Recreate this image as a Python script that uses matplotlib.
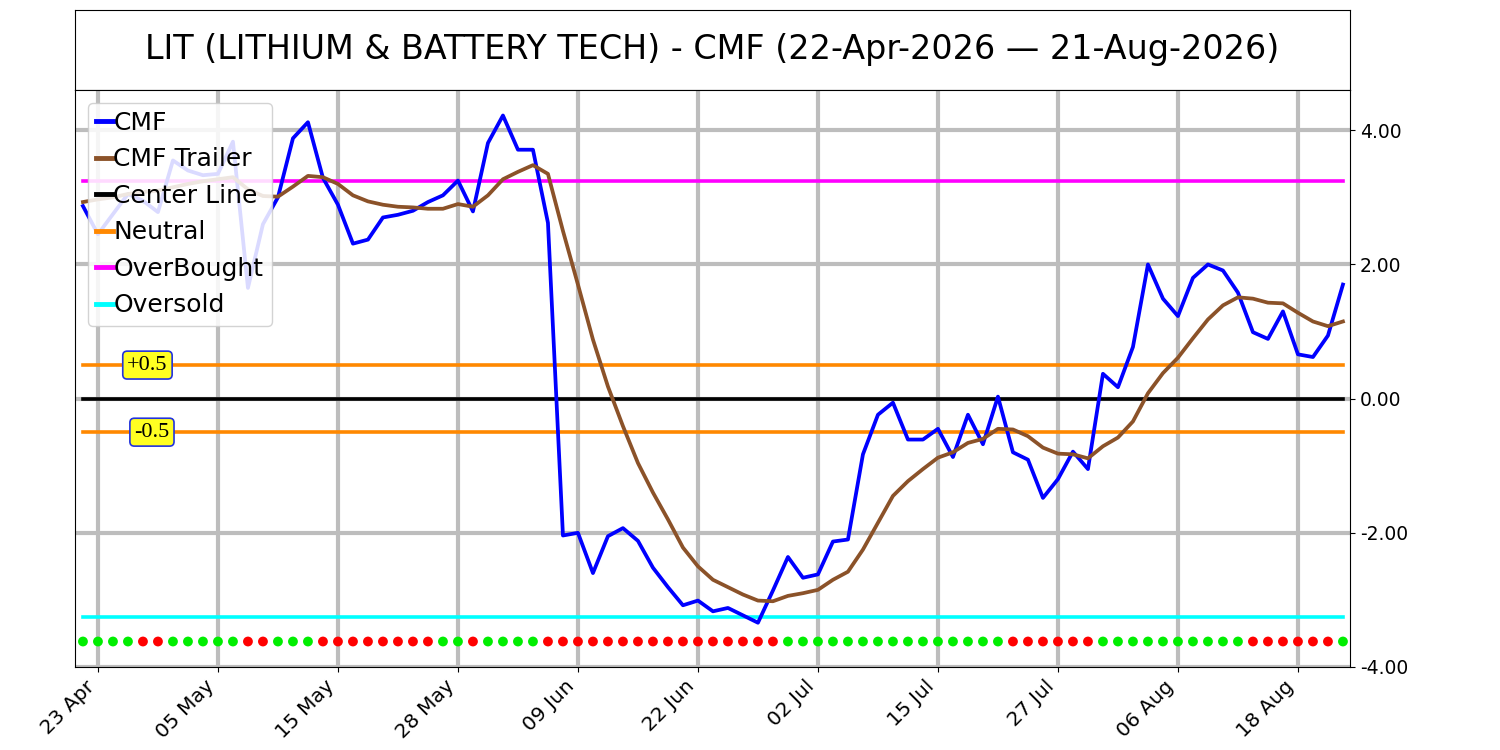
import matplotlib
matplotlib.use("Agg")
import matplotlib.pyplot as plt
import numpy as np
import pandas as pd

# ---------------- data ----------------
title = "LIT (LITHIUM & BATTERY TECH) - CMF (22-Apr-2026 \u2014 21-Aug-2026)"
start_date = "2026-04-22"
end_date = "2026-08-21"
holidays = ["2026-05-25", "2026-06-19", "2026-07-03"]

cmf = [2.87, 2.45, 2.75, 3.05, 2.95, 2.78, 3.55, 3.40, 3.33, 3.35,
       3.83, 1.65, 2.60, 3.00, 3.88, 4.12, 3.29, 2.89, 2.31, 2.37,
       2.70, 2.74, 2.80, 2.93, 3.03, 3.25, 2.79, 3.81, 4.22, 3.71,
       3.71, 2.62, -2.04, -2.00, -2.60, -2.05, -1.93, -2.12, -2.52, -2.81,
       -3.08, -3.01, -3.17, -3.12, -3.23, -3.34, -2.86, -2.36, -2.67, -2.62,
       -2.13, -2.10, -0.83, -0.24, -0.06, -0.61, -0.61, -0.45, -0.87, -0.24,
       -0.68, 0.03, -0.80, -0.91, -1.48, -1.20, -0.79, -1.05, 0.37, 0.17,
       0.77, 2.00, 1.49, 1.23, 1.80, 2.00, 1.91, 1.58, 0.99, 0.89,
       1.30, 0.66, 0.62, 0.94, 1.70]

cmf_trailer = [2.93, 2.97, 3.00, 3.05, 3.08, 3.10, 3.15, 3.20, 3.24, 3.27,
               3.30, 3.12, 3.02, 3.01, 3.16, 3.32, 3.30, 3.20, 3.03, 2.94,
               2.89, 2.86, 2.85, 2.83, 2.83, 2.90, 2.86, 3.03, 3.27, 3.38,
               3.48, 3.35, 2.50, 1.70, 0.88, 0.18, -0.41, -0.96, -1.40, -1.80,
               -2.22, -2.50, -2.70, -2.81, -2.92, -3.01, -3.02, -2.94, -2.90, -2.85,
               -2.70, -2.58, -2.25, -1.85, -1.45, -1.23, -1.05, -0.88, -0.80, -0.66,
               -0.60, -0.45, -0.46, -0.56, -0.73, -0.82, -0.83, -0.89, -0.71, -0.58,
               -0.34, 0.08, 0.38, 0.61, 0.90, 1.18, 1.39, 1.51, 1.49, 1.43,
               1.42, 1.28, 1.15, 1.08, 1.15]

# 1 = bullish (green), 0 = bearish (red)
signal = [1, 1, 1, 1, 0, 0, 1, 1, 1, 1,
          1, 0, 0, 1, 1, 1, 0, 0, 0, 0,
          0, 0, 0, 0, 1, 1, 0, 1, 1, 1,
          1, 0, 0, 0, 0, 0, 0, 0, 0, 0,
          0, 0, 0, 0, 0, 0, 0, 1, 1, 1,
          1, 1, 1, 1, 1, 1, 1, 1, 1, 1,
          1, 1, 0, 0, 0, 0, 0, 0, 1, 1,
          1, 1, 1, 1, 1, 1, 1, 1, 0, 0,
          0, 0, 0, 0, 1]

center_level = 0.0
neutral_levels = [0.5, -0.5]
neutral_labels = ["+0.5", "-0.5"]
overbought_level = 3.25
oversold_level = -3.25
signal_level = -3.62
y_ticks = [4.0, 2.0, 0.0, -2.0, -4.0]

# ---------------- figure ----------------
dates = pd.bdate_range(start_date, end_date, freq="C", holidays=holidays)
n = len(cmf)
x = np.arange(n)

fig = plt.figure(figsize=(15, 7.5), dpi=100)
ax_t = fig.add_axes([75 / 1500, 1 - 90 / 750, 1275 / 1500, 80 / 750])
ax_t.set_xticks([])
ax_t.set_yticks([])
ax_t.text(0.5, 0.5, title, ha="center", va="center", fontsize=24,
          transform=ax_t.transAxes)

ax = fig.add_axes([75 / 1500, 1 - 667 / 750, 1275 / 1500, 577 / 750])

ax.plot(x, cmf, color="#0000ff", lw=2.7, label="CMF", zorder=4)
ax.plot(x, cmf_trailer, color="#8b5229", lw=2.7, label="CMF Trailer", zorder=4)
ax.plot([x[0], x[-1]], [center_level] * 2, color="black", lw=2.6,
        label="Center Line", zorder=3, solid_capstyle="projecting")
for k, lev in enumerate(neutral_levels):
    ax.plot([x[0], x[-1]], [lev] * 2, color="#ff8800", lw=2.6,
            label="Neutral" if k == 0 else None, zorder=3,
            solid_capstyle="projecting")
ax.plot([x[0], x[-1]], [overbought_level] * 2, color="#ff00ff", lw=2.6,
        label="OverBought", zorder=3, solid_capstyle="projecting")
ax.plot([x[0], x[-1]], [oversold_level] * 2, color="#00ffff", lw=2.6,
        label="Oversold", zorder=3, solid_capstyle="projecting")

dot_colors = ["#00ee00" if s else "#ff0000" for s in signal]
ax.scatter(x, [signal_level] * n, c=dot_colors, s=50, zorder=5, linewidths=0)

label_x = [4.3, 4.6]
for lx, lev, txt in zip(label_x, neutral_levels, neutral_labels):
    ax.text(lx, lev, txt, ha="center", va="center", fontsize=16,
            family="Liberation Serif", zorder=6,
            bbox=dict(boxstyle="round,pad=0.2", fc="#ffff22", ec="#2233dd", lw=1.2))

ax.set_xlim(-0.53, n - 0.53)
ax.set_ylim(-4.0, 4.6)
ax.yaxis.tick_right()
ax.set_yticks(y_ticks)
ax.set_yticklabels([f"{v:.2f}" for v in y_ticks], fontsize=13.5)
tick_idx = list(range(1, n, 8))
ax.set_xticks(tick_idx)
ax.set_xticklabels([dates[i].strftime("%d %b") for i in tick_idx],
                   rotation=45, ha="right", fontsize=14.5)
ax.grid(True, color="#bdbdbd", lw=3, zorder=0)
ax.set_axisbelow(True)

leg = ax.legend(loc="upper left", fontsize=18, handlelength=0.7,
                handletextpad=0.0, labelspacing=0.5, borderpad=0.33,
                borderaxespad=0.5, framealpha=0.86)
for h in leg.get_lines():
    h.set_linewidth(3.5)

fig.savefig("out.png", dpi=100)
